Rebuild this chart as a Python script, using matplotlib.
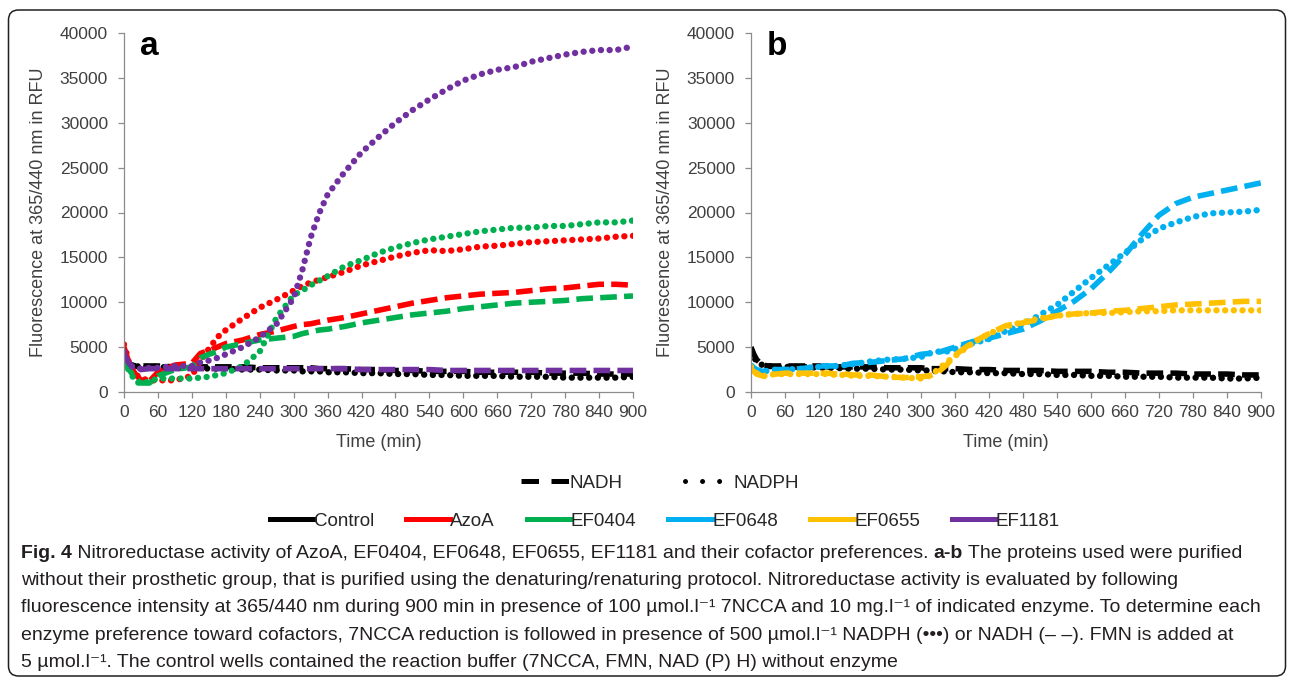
import matplotlib
matplotlib.use('Agg')
import matplotlib.pyplot as plt
from matplotlib.lines import Line2D
from matplotlib.patches import FancyBboxPatch
from matplotlib.transforms import IdentityTransform

plt.rcParams['font.family'] = ['Liberation Sans', 'DejaVu Sans']

# time points (min) at which the curves were read
t = [0, 5, 10, 20, 30, 45, 60, 90, 120, 135, 150, 165, 180, 210, 240, 270, 300,
     315, 330, 345, 360, 390, 420, 450, 480, 510, 540, 570, 600, 630, 660, 690,
     720, 750, 780, 810, 840, 870, 900]

# panel a
ctrl_nadh_a = [4000, 3500, 3100, 2900, 2900, 2900, 2900, 2800, 2800, 2800,
               2800, 2800, 2800, 2800, 2700, 2700, 2700, 2700, 2700, 2600,
               2600, 2600, 2500, 2500, 2400, 2400, 2300, 2300, 2300, 2200,
               2200, 2200, 2200, 2100, 2100, 2100, 2000, 2000, 2000]
ctrl_nadph_a = [3800, 3300, 3000, 2900, 2800, 2800, 2800, 2700, 2700, 2700,
                2600, 2600, 2600, 2500, 2500, 2400, 2400, 2300, 2300, 2300,
                2200, 2200, 2100, 2100, 2000, 2000, 1900, 1900, 1800, 1800,
                1800, 1700, 1700, 1700, 1600, 1600, 1600, 1600, 1700]
azoa_nadh_a = [5000, 4000, 3000, 2000, 1300, 1200, 2200, 3000, 3200, 4300,
               4600, 5000, 5400, 5800, 6400, 6800, 7300, 7500, 7600, 7800,
               8000, 8300, 8700, 9100, 9500, 9900, 10200, 10500, 10700, 10900,
               11000, 11100, 11300, 11500, 11600, 11800, 12000, 12000, 11900]
azoa_nadph_a = [5300, 4200, 3000, 2000, 1500, 1300, 1300, 1300, 1800, 3500,
                4800, 6100, 6900, 8200, 9400, 10300, 11300, 11800, 12200, 12500,
                12800, 13400, 14100, 14600, 15100, 15500, 15800, 15700, 15900, 16200,
                16300, 16500, 16700, 16800, 16900, 17000, 17100, 17300, 17400]
ef0404_nadh_a = [3500, 2900, 2400, 1500, 1000, 1000, 1800, 2500, 2800, 3800,
                 4200, 4500, 5000, 5400, 5800, 6000, 6200, 6500, 6700, 6900,
                 7000, 7300, 7700, 8000, 8300, 8600, 8800, 9000, 9300, 9500,
                 9700, 9900, 10000, 10100, 10200, 10400, 10500, 10600, 10700]
ef0404_nadph_a = [3400, 2800, 2300, 1200, 900, 1200, 1500, 1500, 1500, 1600,
                  1700, 1900, 2100, 2900, 4500, 8300, 10800, 11300, 11900, 12400,
                  12900, 14000, 14700, 15500, 16100, 16600, 17000, 17300, 17600, 17900,
                  18100, 18300, 18300, 18500, 18500, 18700, 18900, 18900, 19100]
ef1181_nadh_a = [4300, 3600, 3100, 2600, 2500, 2600, 2600, 2600, 2600, 2600,
                 2600, 2600, 2600, 2600, 2600, 2600, 2600, 2600, 2600, 2600,
                 2600, 2600, 2500, 2500, 2500, 2500, 2500, 2400, 2400, 2400,
                 2400, 2400, 2400, 2400, 2400, 2400, 2400, 2400, 2400]
ef1181_nadph_a = [4500, 3600, 3000, 2600, 2600, 2700, 2700, 2900, 2900, 3300,
                  3500, 3800, 4200, 5000, 6100, 7600, 10500, 13500, 17200, 19900,
                  22000, 24500, 26700, 28400, 30000, 31400, 32600, 33700, 34700, 35400,
                  35900, 36200, 36800, 37200, 37600, 37900, 38100, 38100, 38500]

# panel b
ctrl_nadh_b = [5000, 4200, 3600, 3000, 2900, 2900, 2900, 2900, 2900, 2800,
               2800, 2800, 2800, 2800, 2700, 2700, 2700, 2600, 2600, 2600,
               2600, 2500, 2500, 2400, 2400, 2400, 2300, 2300, 2300, 2200,
               2200, 2100, 2100, 2100, 2000, 2000, 2000, 1900, 1900]
ctrl_nadph_b = [4500, 3900, 3400, 3000, 2900, 2800, 2800, 2800, 2700, 2700,
                2700, 2600, 2600, 2600, 2500, 2500, 2400, 2400, 2300, 2300,
                2200, 2200, 2100, 2100, 2000, 2000, 1900, 1900, 1800, 1800,
                1700, 1700, 1700, 1600, 1600, 1600, 1500, 1500, 1600]
ef0648_nadh_b = [3000, 2700, 2500, 2300, 2400, 2500, 2500, 2600, 2900, 2900,
                 2900, 3000, 3200, 3300, 3500, 3700, 4200, 4300, 4400, 4700,
                 5000, 5600, 6000, 6500, 7000, 7900, 9000, 10100, 11500, 13300,
                 15300, 17600, 19700, 21000, 21700, 22100, 22500, 22900, 23300]
ef0648_nadph_b = [2900, 2600, 2400, 2200, 2400, 2500, 2500, 2600, 2800, 2900,
                  2900, 3000, 3100, 3400, 3600, 3700, 3900, 4300, 4500, 4500,
                  4800, 5400, 5900, 6800, 7500, 8600, 9700, 11200, 12700, 14100,
                  15500, 17000, 18200, 18900, 19500, 19900, 20000, 20100, 20300]
ef0655_nadh_b = [2500, 2300, 2000, 1800, 1900, 2000, 2100, 2100, 2100, 2100,
                 2000, 2000, 1900, 1900, 1700, 1600, 1700, 1800, 2200, 3000,
                 4100, 5500, 6500, 7400, 7700, 8100, 8500, 8700, 8800, 9000,
                 9100, 9300, 9500, 9700, 9800, 9900, 10000, 10100, 10100]
ef0655_nadph_b = [2800, 2400, 2100, 1700, 1900, 2000, 2000, 2000, 2000, 2000,
                  1900, 1900, 1800, 1800, 1700, 1600, 1500, 1800, 2500, 3300,
                  4000, 5400, 6500, 7300, 7800, 8200, 8500, 8700, 8800, 8800,
                  8900, 9000, 9000, 9100, 9100, 9100, 9100, 9100, 9100]

names = ['Control', 'AzoA', 'EF0404', 'EF0648', 'EF0655', 'EF1181']
colors = ['#000000', '#FF0000', '#00B050', '#00B0F0', '#FFC000', '#7030A0']
col = dict(zip(names, colors))

DASH = (0, (3.0, 1.3))
DOT = (0, (0.01, 1.35))

fig = plt.figure(figsize=(12.93, 6.81), dpi=100)
ax_a = fig.add_axes([124 / 1293, 289 / 681, 509 / 1293, 359 / 681])
ax_b = fig.add_axes([751 / 1293, 289 / 681, 510 / 1293, 359 / 681])


def pair(ax, name, nadh, nadph):
    ax.plot(t, nadh, color=col[name], lw=4.0, ls=DASH, dash_capstyle='butt')
    ax.plot(t, nadph, color=col[name], lw=4.6, ls=DOT, dash_capstyle='round')


pair(ax_a, 'Control', ctrl_nadh_a, ctrl_nadph_a)
pair(ax_a, 'AzoA', azoa_nadh_a, azoa_nadph_a)
pair(ax_a, 'EF0404', ef0404_nadh_a, ef0404_nadph_a)
pair(ax_a, 'EF1181', ef1181_nadh_a, ef1181_nadph_a)

pair(ax_b, 'Control', ctrl_nadh_b, ctrl_nadph_b)
pair(ax_b, 'EF0648', ef0648_nadh_b, ef0648_nadph_b)
pair(ax_b, 'EF0655', ef0655_nadh_b, ef0655_nadph_b)

for ax, letter in ((ax_a, 'a'), (ax_b, 'b')):
    ax.set_xlim(0, 900)
    ax.set_ylim(0, 40000)
    ax.set_xticks(range(0, 901, 60))
    ax.set_yticks(range(0, 40001, 5000))
    ax.spines['top'].set_visible(False)
    ax.spines['right'].set_visible(False)
    for s in ('left', 'bottom'):
        ax.spines[s].set_color('#8c8c8c')
        ax.spines[s].set_linewidth(0.9)
    ax.tick_params(direction='out', length=4.5, width=0.9, color='#8c8c8c',
                   labelsize=12.5, labelcolor='#404040')
    ax.tick_params(axis='x', pad=5)
    ax.tick_params(axis='y', pad=7)
    ax.set_ylabel('Fluorescence at 365/440 nm in RFU', fontsize=13,
                  color='#404040', va='center')
    ax.yaxis.set_label_coords(-0.168, 0.5)
    ax.set_xlabel('Time (min)', fontsize=13, color='#404040', va='center')
    ax.xaxis.set_label_coords(0.5, -0.142)
    ax.text(0.031, 0.9387, letter, transform=ax.transAxes, fontsize=24,
            weight='bold', va='baseline')

# cofactor legend
cof_handles = [Line2D([], [], color='k', lw=3.6, ls=(0, (3.5, 2.5))),
               Line2D([], [], color='k', lw=3.6, ls=(0, (0.01, 3.4)),
                      dash_capstyle='round')]
fig.legend(cof_handles, ['NADH', 'NADPH'], loc='center',
           bbox_to_anchor=(660 / 1293, 1 - 483 / 681), ncol=2, frameon=False,
           fontsize=13.5, handlelength=2.6, handletextpad=0.0, columnspacing=3.3,
           labelcolor='#262626')

# enzyme legend
enz_handles = [Line2D([], [], color=c, lw=3.6) for c in colors]
fig.legend(enz_handles, names, loc='center',
           bbox_to_anchor=(665 / 1293, 1 - 521 / 681), ncol=6, frameon=False,
           fontsize=13.5, handlelength=2.35, handletextpad=0.0, columnspacing=1.7,
           labelcolor='#262626')

# caption
cap = fig.add_axes([0, 0, 1, 1])
cap.set_axis_off()
cap_font = dict(fontsize=14.0, color='#231f20', family=['Liberation Sans', 'DejaVu Sans'])
sup = '\u207b\u00b9'
caption = [
    [('Fig. 4', 'bold'),
     (' Nitroreductase activity of AzoA, EF0404, EF0648, EF0655, EF1181 and their cofactor preferences. ', 'normal'),
     ('a-b', 'bold'),
     (' The proteins used were purified', 'normal')],
    [('without their prosthetic group, that is purified using the denaturing/renaturing protocol. '
      'Nitroreductase activity is evaluated by following', 'normal')],
    [('fluorescence intensity at 365/440 nm during 900 min in presence of 100 \u00b5mol.l' + sup +
      ' 7NCCA and 10 mg.l' + sup + ' of indicated enzyme. To determine each', 'normal')],
    [('enzyme preference toward cofactors, 7NCCA reduction is followed in presence of 500 \u00b5mol.l' + sup +
      ' NADPH (\u2022\u2022\u2022) or NADH (\u2013 \u2013). FMN is added at', 'normal')],
    [('5 \u00b5mol.l' + sup + '. The control wells contained the reaction buffer '
      '(7NCCA, FMN, NAD (P) H) without enzyme', 'normal')],
]
baselines = [558, 585, 612, 640, 667]
for parts, yb in zip(caption, baselines):
    prev = cap.text(21 / 1293, 1 - yb / 681, parts[0][0], weight=parts[0][1],
                    va='baseline', **cap_font)
    for s, w in parts[1:]:
        prev = cap.annotate(s, xy=(1, 0), xycoords=prev, va='bottom', ha='left',
                            weight=w, **cap_font)

border = FancyBboxPatch((8.5, 5), 1277, 666, boxstyle='round,pad=0,rounding_size=10',
                        transform=IdentityTransform(), fill=False, ec='#231f20', lw=1.1)
fig.add_artist(border)

fig.savefig('out.png', dpi=100)
